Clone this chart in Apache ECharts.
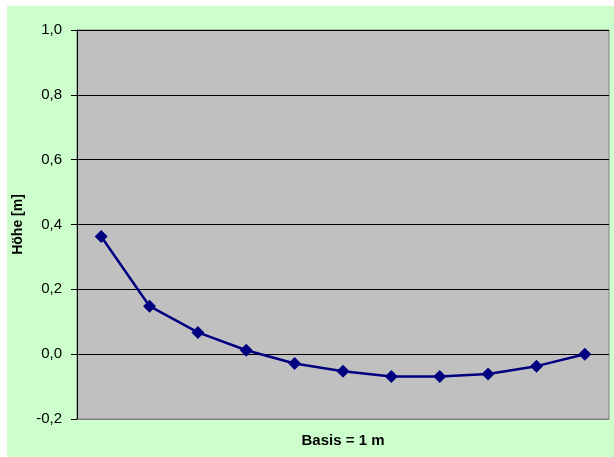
<!DOCTYPE html>
<html>
<head>
<meta charset="utf-8">
<script src="https://cdn.jsdelivr.net/npm/echarts@6/dist/echarts.min.js"></script>
<style>
html,body{margin:0;padding:0;background:#fff;}
#c{position:absolute;left:7px;top:6px;width:607px;height:451px;}
</style>
</head>
<body>
<div id="c"></div>
<script>
const categories = ['1','2','3','4','5','6','7','8','9','10','11'];
const heights = [0.363, 0.148, 0.067, 0.012, -0.029, -0.053, -0.069, -0.069, -0.061, -0.037, 0.0];
const yTicks = { min: -0.2, max: 1.0, interval: 0.2 };

const chart = echarts.init(document.getElementById('c'));
chart.setOption({
  backgroundColor: '#ccffcc',
  animation: false,
  grid: {
    left: 70, top: 24, right: 5, bottom: 38,
    outerBoundsMode: 'none',
    containLabel: false,
    show: true, backgroundColor: '#c0c0c0', borderColor: '#808080', borderWidth: 1
  },
  xAxis: {
    type: 'category',
    data: categories,
    boundaryGap: true,
    name: 'Basis = 1 m',
    nameLocation: 'middle',
    nameGap: 14,
    nameTextStyle: { fontFamily: 'Liberation Sans, Arial', fontWeight: 'bold', fontSize: 15, color: '#000' },
    axisLine: { show: true, onZero: false, lineStyle: { color: '#808080', width: 1 } },
    axisTick: { show: false },
    axisLabel: { show: false },
    splitLine: { show: false }
  },
  yAxis: {
    type: 'value',
    min: yTicks.min, max: yTicks.max, interval: yTicks.interval,
    name: 'Höhe [m]',
    nameLocation: 'middle',
    nameGap: 52,
    nameTextStyle: { fontFamily: 'Liberation Sans, Arial', fontWeight: 'bold', fontSize: 14, color: '#000' },
    axisLine: { show: true, lineStyle: { color: '#000', width: 1 } },
    axisTick: { show: true, inside: false, length: 6, lineStyle: { color: '#000' } },
    axisLabel: {
      margin: 15,
      fontFamily: 'Liberation Sans, Arial', fontSize: 15, color: '#000',
      formatter: v => v.toFixed(1).replace('.', ',')
    },
    splitLine: { show: true, lineStyle: { color: '#000', width: 1 } }
  },
  series: [{
    type: 'line',
    data: heights,
    symbol: 'diamond',
    symbolSize: 13,
    itemStyle: { color: '#000080' },
    lineStyle: { color: '#000080', width: 2.5 }
  }]
});
</script>
</body>
</html>
